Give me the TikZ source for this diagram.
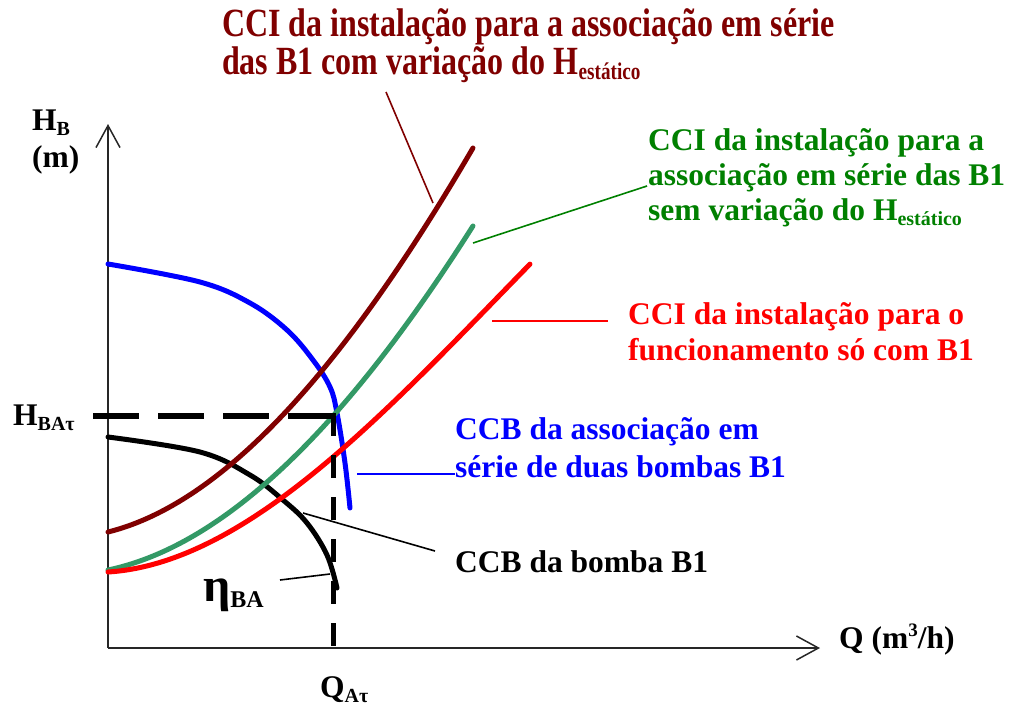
\documentclass[tikz,border=0pt]{standalone}
\usepackage{fontspec}
\setmainfont{Liberation Serif}
\newfontfamily\condfont[FakeStretch=0.8]{Liberation Serif}
\usetikzlibrary{arrows.meta}
\definecolor{cbrown}{RGB}{128,0,0}
\definecolor{cgreen}{RGB}{51,153,102}
\definecolor{tgreen}{RGB}{0,128,0}
\definecolor{cred}{RGB}{255,0,0}
\definecolor{cblue}{RGB}{0,0,255}
\newcommand\lbl{\fontsize{31.5}{35}\selectfont\bfseries}
\newcommand\sbs[1]{\raisebox{-5pt}{\fontsize{20}{21}\selectfont #1}}
\newcommand\csbs[1]{\raisebox{-5pt}{\fontsize{24}{26}\selectfont #1}}
\begin{document}
\begin{tikzpicture}[x=1pt,y=-1pt,
  curve/.style={line width=5pt,line join=round,line cap=round},
  leader/.style={line width=1.6pt},
  axis/.style={line width=1.5pt,black!85,-{Straight Barb[length=22pt,width=24pt,line width=1.5pt]}},
  txt/.style={anchor=base west,inner sep=0pt,font=\lbl},
  ttl/.style={anchor=base west,inner sep=0pt,font=\condfont\fontsize{40}{44}\selectfont\bfseries,text=cbrown}]
\useasboundingbox (0,0) rectangle (1011,710);
% axes
\coordinate (O) at (108,648);
\coordinate (Ytip) at (108,124);
\coordinate (Xtip) at (820,648);
\draw[axis] (O) -- (Ytip);
\draw[axis] (O) -- (Xtip);
% curves
\draw[curve,cblue] plot[smooth,tension=0.6] coordinates {(108,264) (200,282) (250,303) (287,330) (313,360) (330,387) (337,413) (345,463) (350,508)};
\draw[curve,black] plot[smooth,tension=0.6] coordinates {(108,437) (200,452) (250,475) (283,500) (307,523) (327,555) (337,588)};
\draw[curve,cbrown] plot[smooth,domain=0:3.65,samples=60,variable=\t] ({108+100*\t},{532-(24.94*\t+25.86*\t*\t-1.059*\t*\t*\t)});
\draw[curve,cgreen] plot[smooth,domain=0:3.65,samples=60,variable=\t] ({108+100*\t},{570-(21.04*\t+22.69*\t*\t-0.72*\t*\t*\t)});
\draw[curve,cred] plot[smooth,domain=0:4.22,samples=60,variable=\t] ({108+100*\t},{572-(6.29*\t+24.62*\t*\t-2.09*\t*\t*\t)});
% dashed guides
\coordinate (Hl) at (93,416);
\coordinate (P) at (338,416);
\coordinate (Pv) at (333,413);
\coordinate (Qb) at (333,648);
\draw[line width=6pt,dash pattern=on 46pt off 19pt] (Hl) -- (P);
\draw[line width=5pt,dash pattern=on 23pt off 19pt] (Pv) -- (Qb);
% axis labels
\node[txt] (hb) at (32,130) {H\sbs{B}};
\node[txt] (m) at (32,167) {(m)};
\node[txt] (hba) at (13,425) {H\sbs{BAτ}};
\node[txt] (qa) at (320,697) {Q\sbs{Aτ}};
\node[txt] (qlab) at (839,648) {Q (m\raisebox{12pt}{\fontsize{19}{20}\selectfont 3}/h)};
\node[anchor=base west,inner sep=0pt,font=\fontsize{48}{50}\selectfont\bfseries] (eta) at (203,601) {η\raisebox{-6pt}{\fontsize{24}{26}\selectfont BA}};
% titles
\node[ttl] (t1) at (222,36) {CCI da instalação para a associação em série};
\node[ttl] (t2) at (222,74) {das B1 com variação do H\csbs{estático}};
\node[txt,text=tgreen] (g1) at (648,150) {CCI da instalação para a};
\node[txt,text=tgreen] (g2) at (648,185) {associação em série das B1};
\node[txt,text=tgreen] (g3) at (648,220) {sem variação do H\sbs{estático}};
\node[txt,text=cred] (r1) at (628,324) {CCI da instalação para o};
\node[txt,text=cred] (r2) at (628,360) {funcionamento só com B1};
\node[txt,text=cblue] (b1) at (455,439) {CCB da associação em};
\node[txt,text=cblue] (b2) at (455,477) {série de duas bombas B1};
\node[txt] (k1) at (455,572) {CCB da bomba B1};
% leaders
\coordinate (lb1) at (386,92);  \coordinate (lb2) at (433,203);
\coordinate (lg1) at (473,243); \coordinate (lg2) at (647,186);
\coordinate (lr1) at (492,321); \coordinate (lr2) at (608,321);
\coordinate (lu1) at (357,474); \coordinate (lu2) at (455,474);
\coordinate (lk1) at (303,513); \coordinate (lk2) at (435,551);
\coordinate (le1) at (280,580); \coordinate (le2) at (330,574);
\draw[leader,cbrown] (lb1) -- (lb2);
\draw[leader,tgreen] (lg1) -- (lg2);
\draw[leader,cred] (lr1) -- (lr2);
\draw[leader,cblue] (lu1) -- (lu2);
\draw[leader,black] (lk1) -- (lk2);
\draw[leader,black] (le1) -- (le2);
\end{tikzpicture}
\end{document}
